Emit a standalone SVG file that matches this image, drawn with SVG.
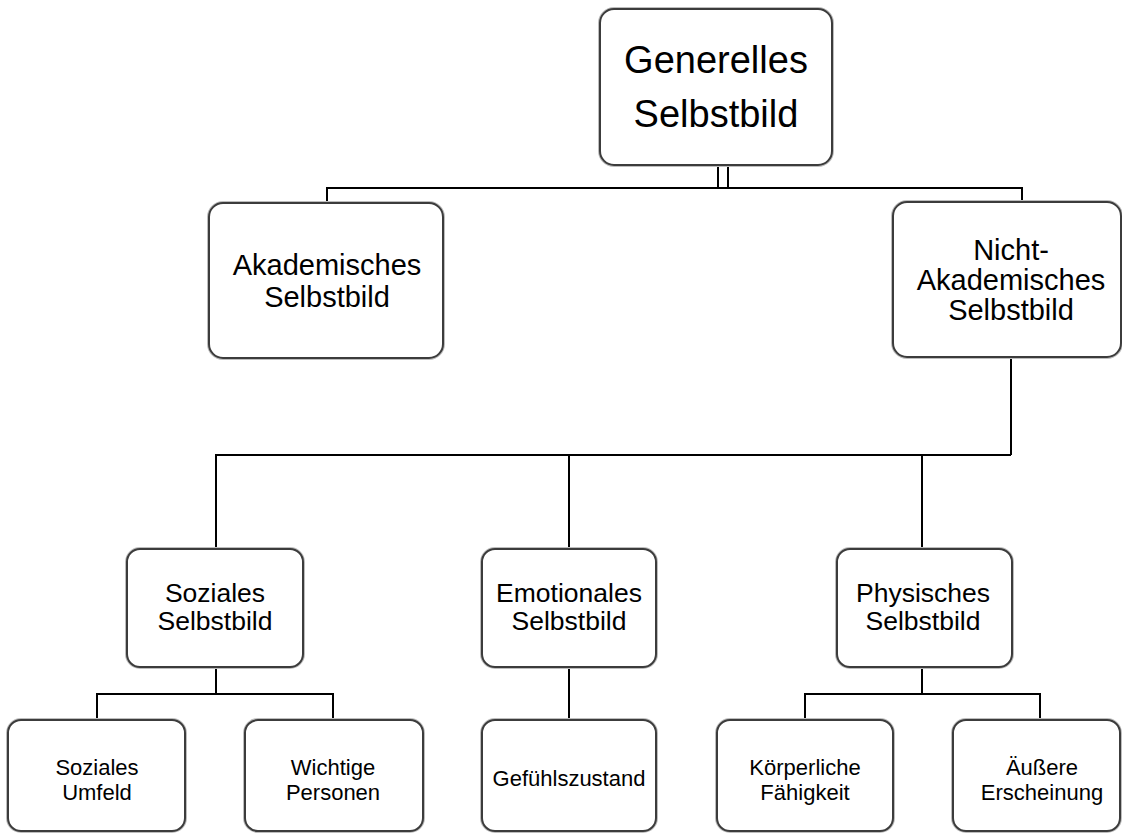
<svg xmlns="http://www.w3.org/2000/svg" width="1122" height="834" viewBox="0 0 1122 834">
<style>
.box{fill:#fff;stroke:#3c3c3c;stroke-width:2}
.halo{fill:none;stroke:#bdbdbd;stroke-width:4}
.c{fill:none;stroke:#000;stroke-width:2}
text{font-family:"Liberation Sans",Arial,sans-serif;fill:#000;text-anchor:middle}
.t1{font-size:38px}
.t2{font-size:29px}
.t3{font-size:26.5px}
.t4{font-size:22px}
</style>
<rect width="1122" height="834" fill="#fff"/>
<g id="connectors">
<line class="c" x1="718" y1="165" x2="718" y2="188"/>
<line class="c" x1="728" y1="165" x2="728" y2="188"/>
<polyline class="c" points="327,203 327,188 1022,188 1022,202"/>
<polyline class="c" points="1011,357 1011,455"/>
<polyline class="c" points="216,549 216,455 1011,455"/>
<line class="c" x1="569" y1="455" x2="569" y2="549"/>
<line class="c" x1="922" y1="455" x2="922" y2="549"/>
<line class="c" x1="216" y1="667" x2="216" y2="694"/>
<polyline class="c" points="97,720 97,694 333,694 333,720"/>
<line class="c" x1="569" y1="667" x2="569" y2="720"/>
<line class="c" x1="922" y1="667" x2="922" y2="694"/>
<polyline class="c" points="805,720 805,694 1040,694 1040,720"/>
</g>
<g id="n-generell">
<rect class="halo" x="600" y="9" width="232" height="156" rx="14"/>
<rect class="box" x="600" y="9" width="232" height="156" rx="14"/>
<text class="t1" x="716" y="73">Generelles</text>
<text class="t1" x="716" y="127">Selbstbild</text>
</g>
<g id="n-akad">
<rect class="halo" x="209" y="203" width="234" height="155" rx="14"/>
<rect class="box" x="209" y="203" width="234" height="155" rx="14"/>
<text class="t2" x="327" y="275">Akademisches</text>
<text class="t2" x="327" y="307">Selbstbild</text>
</g>
<g id="n-nichtakad">
<rect class="halo" x="893" y="202" width="228" height="155" rx="14"/>
<rect class="box" x="893" y="202" width="228" height="155" rx="14"/>
<text class="t2" x="1011" y="260">Nicht-</text>
<text class="t2" x="1011" y="290">Akademisches</text>
<text class="t2" x="1011" y="320">Selbstbild</text>
</g>
<g id="n-sozial">
<rect class="halo" x="127" y="549" width="176" height="118" rx="13"/>
<rect class="box" x="127" y="549" width="176" height="118" rx="13"/>
<text class="t3" x="215" y="602">Soziales</text>
<text class="t3" x="215" y="630">Selbstbild</text>
</g>
<g id="n-emotional">
<rect class="halo" x="482" y="549" width="174" height="118" rx="13"/>
<rect class="box" x="482" y="549" width="174" height="118" rx="13"/>
<text class="t3" x="569" y="602">Emotionales</text>
<text class="t3" x="569" y="630">Selbstbild</text>
</g>
<g id="n-physisch">
<rect class="halo" x="837" y="549" width="175" height="118" rx="13"/>
<rect class="box" x="837" y="549" width="175" height="118" rx="13"/>
<text class="t3" x="923" y="602">Physisches</text>
<text class="t3" x="923" y="630">Selbstbild</text>
</g>
<g id="n-umfeld">
<rect class="halo" x="8" y="720" width="177" height="111" rx="13"/>
<rect class="box" x="8" y="720" width="177" height="111" rx="13"/>
<text class="t4" x="97" y="775">Soziales</text>
<text class="t4" x="97" y="800">Umfeld</text>
</g>
<g id="n-personen">
<rect class="halo" x="245" y="720" width="178" height="111" rx="13"/>
<rect class="box" x="245" y="720" width="178" height="111" rx="13"/>
<text class="t4" x="333" y="775">Wichtige</text>
<text class="t4" x="333" y="800">Personen</text>
</g>
<g id="n-gefuehl">
<rect class="halo" x="482" y="720" width="174" height="111" rx="13"/>
<rect class="box" x="482" y="720" width="174" height="111" rx="13"/>
<text class="t4" x="569" y="786">Gefühlszustand</text>
</g>
<g id="n-koerper">
<rect class="halo" x="717" y="720" width="176" height="111" rx="13"/>
<rect class="box" x="717" y="720" width="176" height="111" rx="13"/>
<text class="t4" x="805" y="775">Körperliche</text>
<text class="t4" x="805" y="800">Fähigkeit</text>
</g>
<g id="n-aeussere">
<rect class="halo" x="953" y="720" width="167" height="111" rx="13"/>
<rect class="box" x="953" y="720" width="167" height="111" rx="13"/>
<text class="t4" x="1042" y="775">Äußere</text>
<text class="t4" x="1042" y="800">Erscheinung</text>
</g>
</svg>
